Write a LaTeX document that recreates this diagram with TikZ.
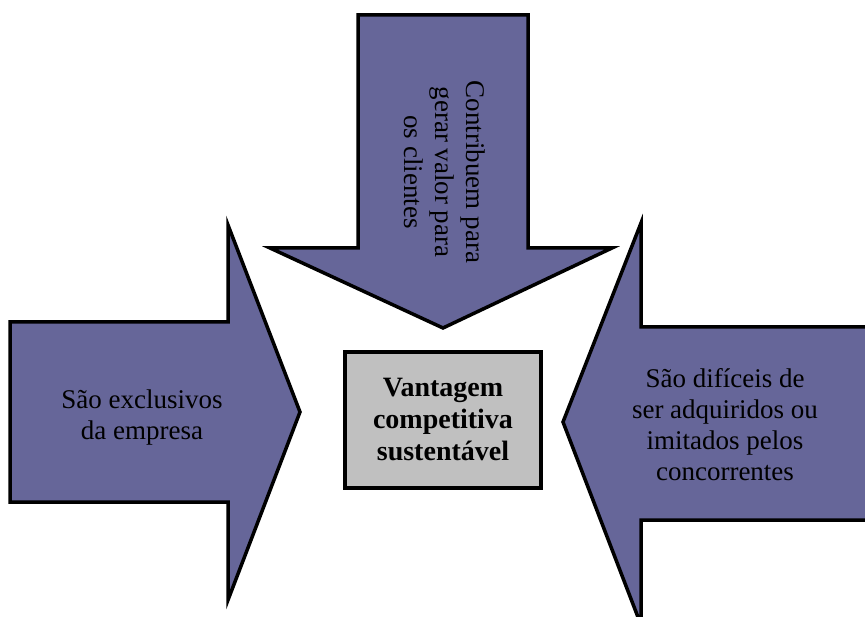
\documentclass[tikz,border=0pt]{standalone}
\usepackage{fontspec}
\setmainfont{Liberation Serif}
\definecolor{arrowfill}{HTML}{666699}
\definecolor{boxfill}{HTML}{C0C0C0}
\tikzset{
  bigarrow/.style={fill=arrowfill, draw=black, line width=3.5pt, line join=miter},
  label/.style={align=center, font=\fontsize{27}{31}\selectfont, inner sep=0pt},
  corebox/.style={fill=boxfill, draw=black, line width=3.5pt, minimum width=196pt,
    minimum height=136pt, align=center, font=\bfseries\fontsize{28}{32}\selectfont}
}
\begin{document}
\begin{tikzpicture}[x=1pt,y=-1pt]
\useasboundingbox (0,0) rectangle (865,617);
% top arrow pointing down
\draw[bigarrow] (358,15) -- (528,15) -- (528,248) -- (612,248) -- (443,328)
  -- (270,248) -- (358,248) -- cycle;
% left arrow pointing right
\draw[bigarrow] (10,322) -- (228,322) -- (228,225) -- (300,412) -- (228,600)
  -- (228,502) -- (10,502) -- cycle;
% right arrow pointing left
\draw[bigarrow] (880,327) -- (641,327) -- (641,223) -- (563,422) -- (641,625)
  -- (641,520) -- (880,520) -- cycle;
% centre box
\node[corebox] (core) at (443,420) {Vantagem\\competitiva\\sustentável};
% arrow texts
\node[label, rotate=-90] (top) at (445,172) {Contribuem para\\gerar valor para\\os clientes};
\node[label] (left) at (142,418) {São exclusivos\\da empresa};
\node[label] (right) at (725,425) {São difíceis de\\ser adquiridos ou\\imitados pelos\\concorrentes};
\end{tikzpicture}
\end{document}
